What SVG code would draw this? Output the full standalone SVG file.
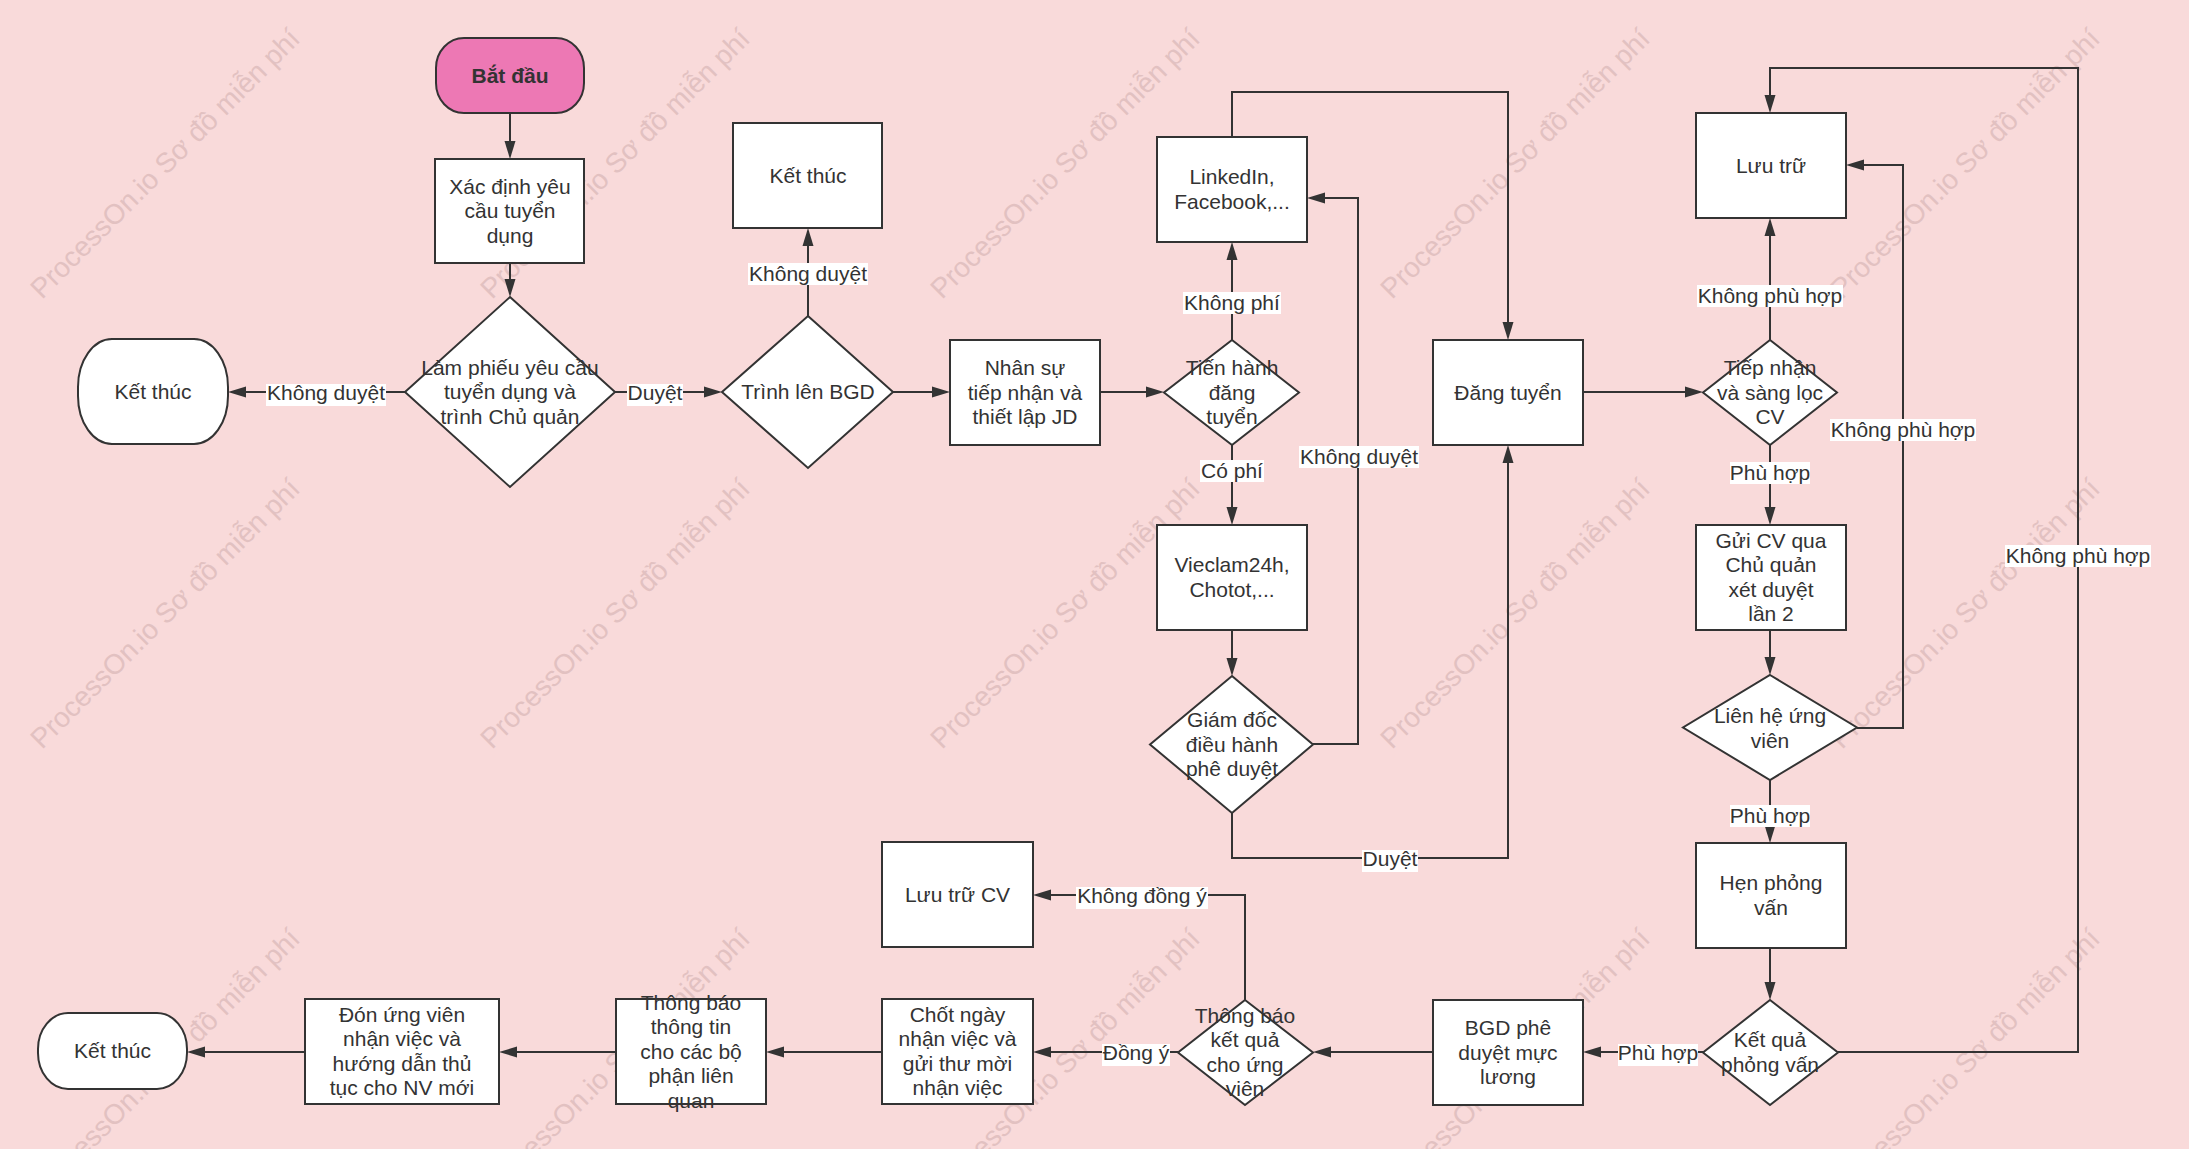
<svg xmlns="http://www.w3.org/2000/svg" width="2189" height="1149" viewBox="0 0 2189 1149">
<defs>
<style>
.bg{fill:#F9DADA}
.wm{font-family:"Liberation Sans",Arial,sans-serif;font-size:28px;fill:#E2C1C1}
.n{fill:#FFFFFF;stroke:#333333;stroke-width:2}
.start{fill:#ED78B4;stroke:#333333;stroke-width:2}
.t{font-family:"Liberation Sans",Arial,sans-serif;font-size:21px;fill:#333333;text-anchor:middle}
.b{font-weight:bold}
.c{fill:none;stroke:#333333;stroke-width:2}
.lb{fill:#FFFFFF}
</style>
<marker id="arr" markerUnits="userSpaceOnUse" markerWidth="20" markerHeight="14" refX="10" refY="6" orient="auto">
<path d="M0,0.5 L18,6 L0,11.5 Z" fill="#333333"/>
</marker>
</defs>
<rect class="bg" x="0" y="0" width="2189" height="1149"/>
<g id="watermarks">
<text class="wm" x="42" y="300" transform="rotate(-45 42 300)">ProcessOn.io Sơ đồ miễn phí</text>
<text class="wm" x="492" y="300" transform="rotate(-45 492 300)">ProcessOn.io Sơ đồ miễn phí</text>
<text class="wm" x="942" y="300" transform="rotate(-45 942 300)">ProcessOn.io Sơ đồ miễn phí</text>
<text class="wm" x="1392" y="300" transform="rotate(-45 1392 300)">ProcessOn.io Sơ đồ miễn phí</text>
<text class="wm" x="1842" y="300" transform="rotate(-45 1842 300)">ProcessOn.io Sơ đồ miễn phí</text>
<text class="wm" x="42" y="750" transform="rotate(-45 42 750)">ProcessOn.io Sơ đồ miễn phí</text>
<text class="wm" x="492" y="750" transform="rotate(-45 492 750)">ProcessOn.io Sơ đồ miễn phí</text>
<text class="wm" x="942" y="750" transform="rotate(-45 942 750)">ProcessOn.io Sơ đồ miễn phí</text>
<text class="wm" x="1392" y="750" transform="rotate(-45 1392 750)">ProcessOn.io Sơ đồ miễn phí</text>
<text class="wm" x="1842" y="750" transform="rotate(-45 1842 750)">ProcessOn.io Sơ đồ miễn phí</text>
<text class="wm" x="42" y="1200" transform="rotate(-45 42 1200)">ProcessOn.io Sơ đồ miễn phí</text>
<text class="wm" x="492" y="1200" transform="rotate(-45 492 1200)">ProcessOn.io Sơ đồ miễn phí</text>
<text class="wm" x="942" y="1200" transform="rotate(-45 942 1200)">ProcessOn.io Sơ đồ miễn phí</text>
<text class="wm" x="1392" y="1200" transform="rotate(-45 1392 1200)">ProcessOn.io Sơ đồ miễn phí</text>
<text class="wm" x="1842" y="1200" transform="rotate(-45 1842 1200)">ProcessOn.io Sơ đồ miễn phí</text>
</g>
<g id="connectors">
<path class="c" marker-end="url(#arr)" d="M510,113 V151"/>
<path class="c" marker-end="url(#arr)" d="M510,263 V289"/>
<path class="c" marker-end="url(#arr)" d="M405,392 H236"/>
<path class="c" marker-end="url(#arr)" d="M615,392 H714"/>
<path class="c" marker-end="url(#arr)" d="M808,316 V236"/>
<path class="c" marker-end="url(#arr)" d="M893,392 H942"/>
<path class="c" marker-end="url(#arr)" d="M1100,392 H1156"/>
<path class="c" marker-end="url(#arr)" d="M1232,340 V250"/>
<path class="c" marker-end="url(#arr)" d="M1232,445 V517"/>
<path class="c" marker-end="url(#arr)" d="M1232,630 V668"/>
<path class="c" marker-end="url(#arr)" d="M1313,744 H1358 V198 H1315"/>
<path class="c" marker-end="url(#arr)" d="M1232,813 V858 H1508 V453"/>
<path class="c" marker-end="url(#arr)" d="M1232,137 V92 H1508 V332"/>
<path class="c" marker-end="url(#arr)" d="M1583,392 H1695"/>
<path class="c" marker-end="url(#arr)" d="M1770,340 V226"/>
<path class="c" marker-end="url(#arr)" d="M1770,445 V517"/>
<path class="c" marker-end="url(#arr)" d="M1770,630 V667"/>
<path class="c" marker-end="url(#arr)" d="M1857,728 H1903 V165 H1854"/>
<path class="c" marker-end="url(#arr)" d="M1770,780 V835"/>
<path class="c" marker-end="url(#arr)" d="M1770,948 V992"/>
<path class="c" marker-end="url(#arr)" d="M1838,1052 H2078 V68 H1770 V105"/>
<path class="c" marker-end="url(#arr)" d="M1703,1052 H1591"/>
<path class="c" marker-end="url(#arr)" d="M1433,1052 H1321"/>
<path class="c" marker-end="url(#arr)" d="M1245,1000 V895 H1041"/>
<path class="c" marker-end="url(#arr)" d="M1178,1052 H1041"/>
<path class="c" marker-end="url(#arr)" d="M882,1052 H774"/>
<path class="c" marker-end="url(#arr)" d="M616,1052 H507"/>
<path class="c" marker-end="url(#arr)" d="M305,1052 H195"/>
<g id="labels">
<rect class="lb" x="266" y="384" width="120" height="22"/><text class="t" x="326" y="400">Không duyệt</text>
<rect class="lb" x="627" y="384" width="56" height="22"/><text class="t" x="655" y="400">Duyệt</text>
<rect class="lb" x="748" y="263" width="120" height="22"/><text class="t" x="808" y="281">Không duyệt</text>
<rect class="lb" x="1183" y="292" width="98" height="22"/><text class="t" x="1232" y="310">Không phí</text>
<rect class="lb" x="1200" y="460" width="64" height="22"/><text class="t" x="1232" y="478">Có phí</text>
<rect class="lb" x="1299" y="446" width="120" height="22"/><text class="t" x="1359" y="464">Không duyệt</text>
<rect class="lb" x="1362" y="850" width="56" height="22"/><text class="t" x="1390" y="866">Duyệt</text>
<rect class="lb" x="1697" y="285" width="146" height="22"/><text class="t" x="1770" y="303">Không phù hợp</text>
<rect class="lb" x="1730" y="462" width="80" height="22"/><text class="t" x="1770" y="480">Phù hợp</text>
<rect class="lb" x="1830" y="419" width="146" height="22"/><text class="t" x="1903" y="437">Không phù hợp</text>
<rect class="lb" x="1730" y="805" width="80" height="22"/><text class="t" x="1770" y="823">Phù hợp</text>
<rect class="lb" x="2005" y="545" width="146" height="22"/><text class="t" x="2078" y="563">Không phù hợp</text>
<rect class="lb" x="1618" y="1044" width="80" height="22"/><text class="t" x="1658" y="1060">Phù hợp</text>
<rect class="lb" x="1076" y="887" width="132" height="22"/><text class="t" x="1142" y="903">Không đồng ý</text>
<rect class="lb" x="1102" y="1044" width="68" height="22"/><text class="t" x="1136" y="1060">Đồng ý</text>
</g>
</g>
<g id="n-batdau">
<rect class="start" x="436" y="38" width="148" height="75" rx="28" ry="30"/>
<text class="t b" x="510" y="82.5">Bắt đầu</text>
</g>
<g id="n-xacdinh">
<rect class="n" x="435" y="159" width="149" height="104"/>
<text class="t" x="510" y="193.5">Xác định yêu</text>
<text class="t" x="510" y="218">cầu tuyển</text>
<text class="t" x="510" y="242.5">dụng</text>
</g>
<g id="n-lamphieu">
<polygon class="n" points="510,297 615,392 510,487 405,392"/>
<text class="t" x="510" y="374.5">Làm phiếu yêu cầu</text>
<text class="t" x="510" y="399">tuyển dụng và</text>
<text class="t" x="510" y="423.5">trình Chủ quản</text>
</g>
<g id="n-ketthuc1">
<rect class="n" x="78" y="339" width="150" height="105" rx="34" ry="48"/>
<text class="t" x="153" y="398.5">Kết thúc</text>
</g>
<g id="n-ketthuc2">
<rect class="n" x="733" y="123" width="149" height="105"/>
<text class="t" x="808" y="182.5">Kết thúc</text>
</g>
<g id="n-trinhbgd">
<polygon class="n" points="808,316 893,392 808,468 722,392"/>
<text class="t" x="808" y="399">Trình lên BGD</text>
</g>
<g id="n-nhansu">
<rect class="n" x="950" y="340" width="150" height="105"/>
<text class="t" x="1025" y="375">Nhân sự</text>
<text class="t" x="1025" y="399.5">tiếp nhận và</text>
<text class="t" x="1025" y="424">thiết lập JD</text>
</g>
<g id="n-tienhanh">
<polygon class="n" points="1232,340 1299,392.5 1232,445 1164,392.5"/>
<text class="t" x="1232" y="375">Tiến hành</text>
<text class="t" x="1232" y="399.5">đăng</text>
<text class="t" x="1232" y="424">tuyển</text>
</g>
<g id="n-linkedin">
<rect class="n" x="1157" y="137" width="150" height="105"/>
<text class="t" x="1232" y="184.25">LinkedIn,</text>
<text class="t" x="1232" y="208.75">Facebook,...</text>
</g>
<g id="n-vieclam">
<rect class="n" x="1157" y="525" width="150" height="105"/>
<text class="t" x="1232" y="572.25">Vieclam24h,</text>
<text class="t" x="1232" y="596.75">Chotot,...</text>
</g>
<g id="n-giamdoc">
<polygon class="n" points="1232,676 1313,744.5 1232,813 1150,744.5"/>
<text class="t" x="1232" y="727">Giám đốc</text>
<text class="t" x="1232" y="751.5">điều hành</text>
<text class="t" x="1232" y="776">phê duyệt</text>
</g>
<g id="n-dangtuyen">
<rect class="n" x="1433" y="340" width="150" height="105"/>
<text class="t" x="1508" y="399.5">Đăng tuyển</text>
</g>
<g id="n-luutru">
<rect class="n" x="1696" y="113" width="150" height="105"/>
<text class="t" x="1771" y="172.5">Lưu trữ</text>
</g>
<g id="n-tiepnhan">
<polygon class="n" points="1770,340 1837,392.5 1770,445 1703,392.5"/>
<text class="t" x="1770" y="375">Tiếp nhận</text>
<text class="t" x="1770" y="399.5">và sàng lọc</text>
<text class="t" x="1770" y="424">CV</text>
</g>
<g id="n-guicv">
<rect class="n" x="1696" y="525" width="150" height="105"/>
<text class="t" x="1771" y="547.75">Gửi CV qua</text>
<text class="t" x="1771" y="572.25">Chủ quản</text>
<text class="t" x="1771" y="596.75">xét duyệt</text>
<text class="t" x="1771" y="621.25">lần 2</text>
</g>
<g id="n-lienhe">
<polygon class="n" points="1770,675 1857,727.5 1770,780 1683,727.5"/>
<text class="t" x="1770" y="723">Liên hệ ứng</text>
<text class="t" x="1770" y="747.5">viên</text>
</g>
<g id="n-henpv">
<rect class="n" x="1696" y="843" width="150" height="105"/>
<text class="t" x="1771" y="890.25">Hẹn phỏng</text>
<text class="t" x="1771" y="914.75">vấn</text>
</g>
<g id="n-ketquapv">
<polygon class="n" points="1770,1000 1838,1052.5 1770,1105 1703,1052.5"/>
<text class="t" x="1770" y="1047.25">Kết quả</text>
<text class="t" x="1770" y="1071.75">phỏng vấn</text>
</g>
<g id="n-bgdluong">
<rect class="n" x="1433" y="1000" width="150" height="105"/>
<text class="t" x="1508" y="1035">BGD phê</text>
<text class="t" x="1508" y="1059.5">duyệt mực</text>
<text class="t" x="1508" y="1084">lương</text>
</g>
<g id="n-thongbaokq">
<polygon class="n" points="1245,1000 1313,1052.5 1245,1105 1178,1052.5"/>
<text class="t" x="1245" y="1022.75">Thông báo</text>
<text class="t" x="1245" y="1047.25">kết quả</text>
<text class="t" x="1245" y="1071.75">cho ứng</text>
<text class="t" x="1245" y="1096.25">viên</text>
</g>
<g id="n-luutrucv">
<rect class="n" x="882" y="842" width="151" height="105"/>
<text class="t" x="957.5" y="901.5">Lưu trữ CV</text>
</g>
<g id="n-chotngay">
<rect class="n" x="882" y="999" width="151" height="105"/>
<text class="t" x="957.5" y="1021.75">Chốt ngày</text>
<text class="t" x="957.5" y="1046.25">nhận việc và</text>
<text class="t" x="957.5" y="1070.75">gửi thư mời</text>
<text class="t" x="957.5" y="1095.25">nhận việc</text>
</g>
<g id="n-thongbaott">
<rect class="n" x="616" y="999" width="150" height="105"/>
<text class="t" x="691" y="1009.5">Thông báo</text>
<text class="t" x="691" y="1034">thông tin</text>
<text class="t" x="691" y="1058.5">cho các bộ</text>
<text class="t" x="691" y="1083">phận liên</text>
<text class="t" x="691" y="1107.5">quan</text>
</g>
<g id="n-donuv">
<rect class="n" x="305" y="999" width="194" height="105"/>
<text class="t" x="402" y="1021.75">Đón ứng viên</text>
<text class="t" x="402" y="1046.25">nhận việc và</text>
<text class="t" x="402" y="1070.75">hướng dẫn thủ</text>
<text class="t" x="402" y="1095.25">tục cho NV mới</text>
</g>
<g id="n-ketthuc3">
<rect class="n" x="38" y="1013" width="149" height="76" rx="30" ry="36"/>
<text class="t" x="112.5" y="1058">Kết thúc</text>
</g>
</svg>
